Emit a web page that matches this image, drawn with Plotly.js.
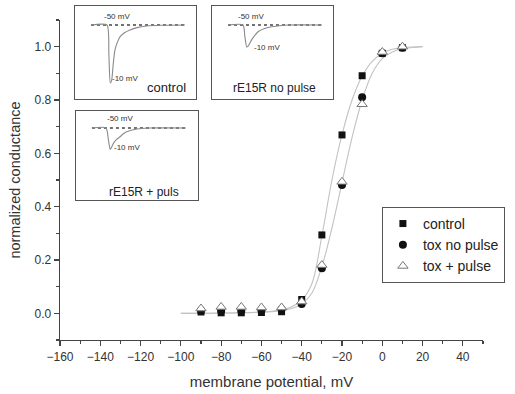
<!DOCTYPE html>
<html>
<head>
<meta charset="utf-8">
<script src="https://cdn.plot.ly/plotly-3.0.1.min.js"></script>
<style>html,body{margin:0;padding:0;background:#fff;}#chart{width:515px;height:394px;}</style>
</head>
<body>
<div id="chart"></div>
<script>
// Activation data (membrane potential, mV)
var potential = [-90, -80, -70, -60, -50, -40, -30, -20, -10, 0, 10];
var gControl = [0.005, 0.002, 0.002, 0.003, 0.006, 0.052, 0.294, 0.669, 0.891, 0.975, 0.996];
var gToxNoPulse = [0.010, 0.010, 0.010, 0.012, 0.015, 0.035, 0.169, 0.481, 0.810, 0.975, 0.996];
var gToxPulse = [0.018, 0.024, 0.024, 0.022, 0.022, 0.044, 0.181, 0.493, 0.784, 0.980, 1.000];

// Fitted curves
var fitV = [-100, -90, -80, -70, -60, -55, -50, -45, -40, -35, -30, -25, -20, -15, -10, -5, 0, 5, 10, 15, 20];
var fitControl = [0, 0, 0.001, 0.002, 0.005, 0.008, 0.013, 0.025, 0.05, 0.11, 0.29, 0.5, 0.67, 0.8, 0.89, 0.945, 0.975, 0.99, 0.996, 0.999, 1.0];
var fitTox = [0, 0, 0.001, 0.002, 0.004, 0.006, 0.01, 0.018, 0.035, 0.075, 0.175, 0.32, 0.49, 0.66, 0.8, 0.9, 0.955, 0.98, 0.992, 0.997, 1.0];

// Inset current traces (time ms, normalized current)
var baseT = [0, 10];
var baseI = [0, 0];
var ctrlT = [0, 1.7, 1.9, 2.05, 2.2, 2.35, 2.55, 2.8, 3.1, 3.6, 4.15, 4.9, 5.9, 7.5, 10];
var ctrlI = [0, 0, -0.5, -1.0, -0.95, -0.7, -0.43, -0.3, -0.2, -0.13, -0.086, -0.045, -0.017, -0.005, 0];
var noPulseT = [0, 1.6, 1.8, 2.0, 2.2, 2.5, 2.85, 3.2, 3.9, 4.65, 6.4, 10];
var noPulseI = [0, 0, -0.2, -0.38, -0.35, -0.26, -0.18, -0.115, -0.06, -0.03, 0, 0];
var pulseT = [0, 1.5, 1.75, 1.95, 2.1, 2.3, 2.6, 3.0, 3.35, 3.7, 4.8, 6.0, 10];
var pulseI = [0, 0, -0.2, -0.37, -0.33, -0.26, -0.2, -0.15, -0.1, -0.064, -0.017, 0, 0];

var legendNames = ["control", "tox no pulse", "tox + pulse"];
var insetNames = ["control", "rE15R no pulse", "rE15R + puls"];

var FONT = "Liberation Sans, Arial, sans-serif";
var traces = [];
traces.push({x: fitV, y: fitControl, mode: "lines", line: {color: "#c2c2c2", width: 1.1, shape: "spline"}, showlegend: false, hoverinfo: "skip"});
traces.push({x: fitV, y: fitTox, mode: "lines", line: {color: "#c2c2c2", width: 1.1, shape: "spline"}, showlegend: false, hoverinfo: "skip"});
traces.push({x: potential, y: gControl, mode: "markers", name: legendNames[0], marker: {symbol: "square", size: 7, color: "#111"}});
traces.push({x: potential, y: gToxNoPulse, mode: "markers", name: legendNames[1], marker: {symbol: "circle", size: 8, color: "#111"}});
traces.push({x: potential, y: gToxPulse, mode: "markers", name: legendNames[2], marker: {symbol: "triangle-up", size: 9, color: "#fff", line: {color: "#777", width: 1}}});

var insetData = [[ctrlT, ctrlI], [noPulseT, noPulseI], [pulseT, pulseI]];
for (var k = 0; k < 3; k++) {
  var xa = "x" + (k + 2), ya = "y" + (k + 2);
  traces.push({x: baseT, y: baseI, xaxis: xa, yaxis: ya, mode: "lines", line: {color: "#444", width: 1.6, dash: "dot"}, showlegend: false, hoverinfo: "skip"});
  traces.push({x: insetData[k][0], y: insetData[k][1], xaxis: xa, yaxis: ya, mode: "lines", line: {color: "#8a8a8a", width: 1.1, shape: "spline", smoothing: 0.6}, showlegend: false, hoverinfo: "skip"});
}

function insetAxis(domain, range, anchor) {
  return {domain: domain, range: range, anchor: anchor, showline: true, mirror: true, linecolor: "#555", linewidth: 1.2,
    showgrid: false, zeroline: false, ticks: "", showticklabels: false, fixedrange: true};
}

var layout = {
  width: 515, height: 394,
  margin: {l: 60, r: 32, t: 4, b: 54},
  paper_bgcolor: "#fff", plot_bgcolor: "rgba(0,0,0,0)",
  font: {family: FONT, color: "#333", size: 12},
  showlegend: true,
  legend: {x: 0.761, y: 0.396, xanchor: "left", yanchor: "top", bgcolor: "#fff", bordercolor: "#555", borderwidth: 1,
    font: {size: 14, color: "#222"}, tracegroupgap: 0},
  xaxis: {domain: [0, 1], range: [-160, 50], tickmode: "linear", tick0: -160, dtick: 20,
    ticks: "outside", ticklen: 5, tickwidth: 1.2, tickcolor: "#444", showline: true, linecolor: "#444", linewidth: 1.3,
    showgrid: false, zeroline: false, tickfont: {size: 12, color: "#333"},
    minor: {ticks: "outside", dtick: 10, ticklen: 3, tickwidth: 1.1, tickcolor: "#444", showgrid: false},
    title: {text: "membrane potential, mV", font: {size: 15, color: "#333"}, standoff: 13}, anchor: "y"},
  yaxis: {domain: [0, 0.95238], range: [-0.1, 1.1], tickmode: "linear", tick0: 0, dtick: 0.2, tickformat: ".1f",
    ticks: "outside", ticklen: 5, tickwidth: 1.2, tickcolor: "#444", showline: true, linecolor: "#444", linewidth: 1.3,
    showgrid: false, zeroline: false, tickfont: {size: 12, color: "#333"},
    minor: {ticks: "outside", dtick: 0.1, ticklen: 3, tickwidth: 1.1, tickcolor: "#444", showgrid: false},
    title: {text: "normalized conductance", font: {size: 14.5, color: "#333"}, standoff: 10}, anchor: "x"},
  xaxis2: insetAxis([0.0355, 0.3215], [-1.7, 11.17], "y2"),
  yaxis2: insetAxis([0.7173, 0.994], [-1.276, 0.328], "x2"),
  xaxis3: insetAxis([0.3593, 0.6454], [-1.7, 11.17], "y3"),
  yaxis3: insetAxis([0.7173, 0.994], [-1.276, 0.328], "x3"),
  xaxis4: insetAxis([0.0378, 0.3262], [-1.7, 11.3], "y4"),
  yaxis4: insetAxis([0.4167, 0.6815], [-1.241, 0.293], "x4"),
  annotations: [
    {xref: "x2", yref: "y2", x: 2.77, y: 0.14, text: "-50 mV", showarrow: false, font: {size: 8, color: "#333"}},
    {xref: "x2", yref: "y2", x: 3.6, y: -0.93, text: "-10 mV", showarrow: false, font: {size: 8, color: "#333"}},
    {xref: "x2", yref: "y2", x: 8.0, y: -1.07, text: insetNames[0], showarrow: false, font: {size: 13, color: "#222"}},
    {xref: "x3", yref: "y3", x: 2.45, y: 0.155, text: "-50 mV", showarrow: false, font: {size: 8, color: "#333"}},
    {xref: "x3", yref: "y3", x: 4.2, y: -0.38, text: "-10 mV", showarrow: false, font: {size: 8, color: "#333"}},
    {xref: "x3", yref: "y3", x: 4.95, y: -1.086, text: insetNames[1], showarrow: false, font: {size: 12, color: "#222"}},
    {xref: "x4", yref: "y4", x: 3.0, y: 0.17, text: "-50 mV", showarrow: false, font: {size: 8, color: "#333"}},
    {xref: "x4", yref: "y4", x: 3.7, y: -0.34, text: "-10 mV", showarrow: false, font: {size: 8, color: "#333"}},
    {xref: "x4", yref: "y4", x: 5.6, y: -1.1, text: insetNames[2], showarrow: false, font: {size: 12, color: "#222"}}
  ]
};

Plotly.newPlot("chart", traces, layout, {staticPlot: true, displayModeBar: false});
</script>
</body>
</html>
